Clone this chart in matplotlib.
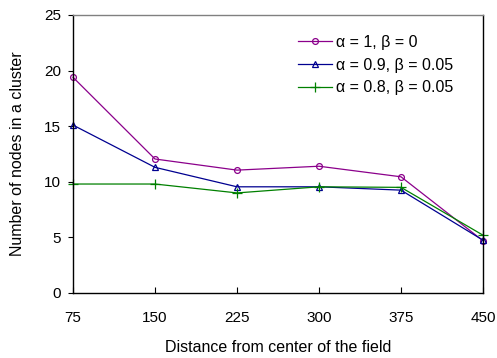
import matplotlib
matplotlib.use("Agg")
import matplotlib.pyplot as plt

plt.rcParams['font.family'] = ['Liberation Sans', 'DejaVu Sans']

distances = [75, 150, 225, 300, 375, 450]
series_a = [19.4, 12.05, 11.05, 11.4, 10.45, 4.7]
series_b = [15.1, 11.3, 9.55, 9.55, 9.25, 4.75]
series_c = [9.8, 9.8, 9.0, 9.55, 9.5, 5.2]
labels = ["α = 1, β = 0", "α = 0.9, β = 0.05", "α = 0.8, β = 0.05"]
yticks = [0, 5, 10, 15, 20, 25]

fig = plt.figure(figsize=(4.97, 3.58), dpi=100)
ax = fig.add_axes([73/497, 1-293/358, 410/497, 278/358])

ax.plot(distances, series_a, color='#8B008B', lw=0.9, marker='o', ms=4.2,
        mfc='none', mec='#8B008B', mew=0.9, label=labels[0], clip_on=False)
ax.plot(distances, series_b, color='#000090', lw=0.9, marker='^', ms=4.8,
        mfc='none', mec='#000090', mew=0.9, label=labels[1], clip_on=False)
ax.plot(distances, series_c, color='#008000', lw=0.9, marker='+', ms=6.5,
        mec='#008000', mew=0.9, label=labels[2], clip_on=False)

ax.set_xlim(75, 450)
ax.set_ylim(0, 25)
ax.set_xticks(distances)
ax.set_yticks(yticks)
ax.tick_params(axis='x', direction='in', length=4.3, pad=13, labelsize=11, width=0.8)
ax.tick_params(axis='y', direction='out', length=3.6, pad=5, labelsize=11, width=0.8)
for s in ['left', 'bottom', 'right']:
    ax.spines[s].set_color('black')
    ax.spines[s].set_linewidth(1)
ax.spines['top'].set_color('#808080')
ax.spines['top'].set_linewidth(1)

ax.set_xlabel("Distance from center of the field", fontsize=11.5)
ax.set_ylabel("Number of nodes in a cluster", fontsize=11.5)
ax.yaxis.set_label_coords(-(73-18)/410, 0.5)
ax.xaxis.set_label_coords(0.5, -(348-293)/278)
ax.xaxis.label.set_va('center')
ax.yaxis.label.set_va('center')

leg = ax.legend(loc='upper left', bbox_to_anchor=(225/410, 1-20/278), frameon=False,
                fontsize=11.5, handlelength=2.1, handletextpad=0.25, labelspacing=0.48,
                borderaxespad=0, borderpad=0)

fig.savefig("out.png", dpi=100)
